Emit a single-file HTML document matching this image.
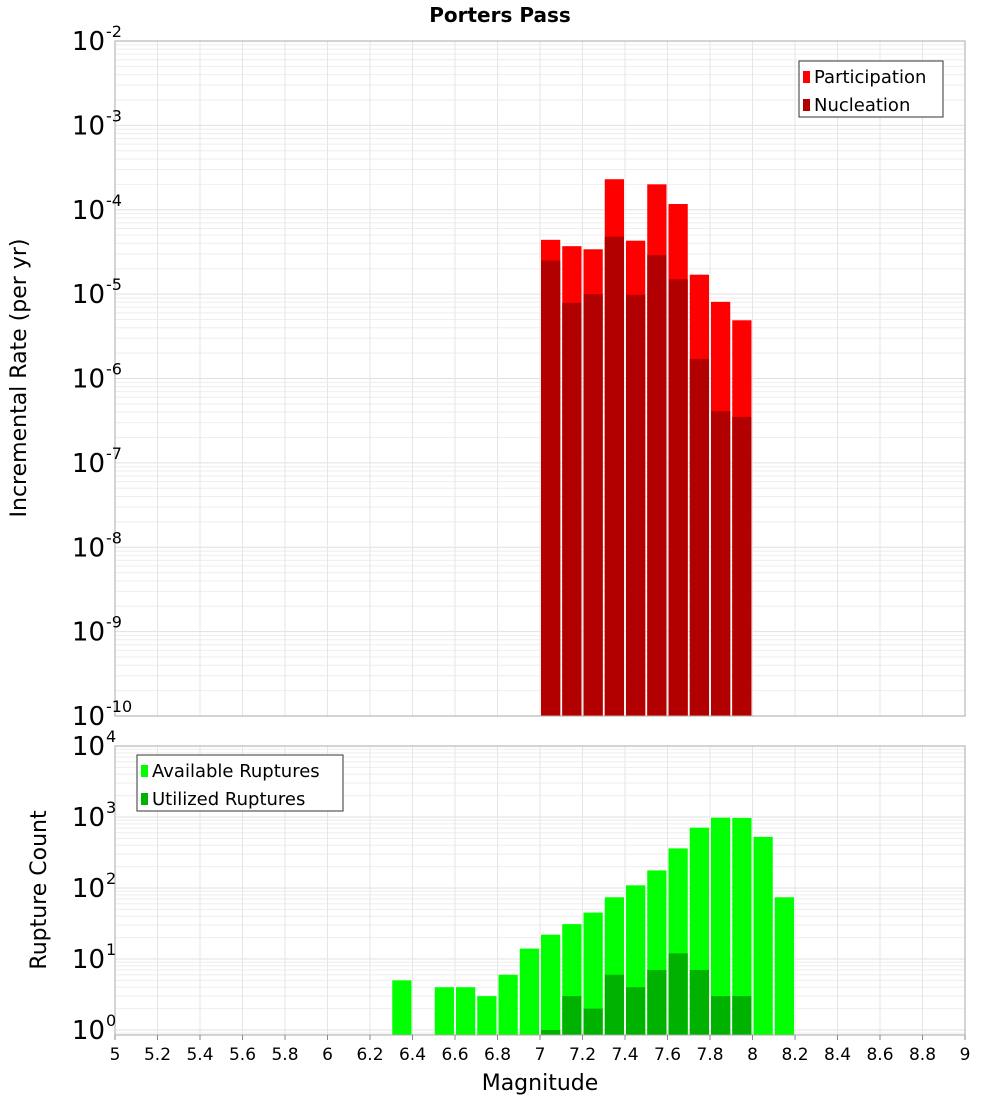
<!DOCTYPE html>
<html><head><meta charset="utf-8"><style>
body{margin:0;background:#fff;}
svg{display:block;font-family:"DejaVu Sans","Liberation Sans",sans-serif;}
</style></head><body>
<svg id="chart" width="1000" height="1100" xmlns="http://www.w3.org/2000/svg">
<text x="500" y="22" text-anchor="middle" font-size="20" font-weight="bold">Porters Pass</text>
<g id="top"></g>
<g id="bot"></g>
<text transform="translate(26,378) rotate(-90)" text-anchor="middle" font-size="22">Incremental Rate (per yr)</text>
<text transform="translate(46,890) rotate(-90)" text-anchor="middle" font-size="22">Rupture Count</text>
<text x="540" y="1090" text-anchor="middle" font-size="22">Magnitude</text>
</svg>
<script>
const bins=[7.05,7.15,7.25,7.35,7.45,7.55,7.65,7.75,7.85,7.95];
const participation=[4.4e-5,3.7e-5,3.4e-5,2.3e-4,4.3e-5,2.0e-4,1.17e-4,1.7e-5,8.1e-6,4.9e-6];
const nucleation=[2.5e-5,7.9e-6,1.0e-5,4.8e-5,9.8e-6,2.9e-5,1.5e-5,1.7e-6,4.1e-7,3.5e-7];
const countBins=[6.35,6.55,6.65,6.75,6.85,6.95,7.05,7.15,7.25,7.35,7.45,7.55,7.65,7.75,7.85,7.95,8.05,8.15];
const available=[5,4,4,3,6,14,22,31,45,74,109,177,361,708,977,970,525,74];
const utilBins=[7.05,7.15,7.25,7.35,7.45,7.55,7.65,7.75,7.85,7.95];
const utilized=[1,3,2,6,4,7,12,7,3,3];
const xTicks=[5,5.2,5.4,5.6,5.8,6,6.2,6.4,6.6,6.8,7,7.2,7.4,7.6,7.8,8,8.2,8.4,8.6,8.8,9];
const NS='http://www.w3.org/2000/svg';
const L=115,R=965;
const xs=m=>L+(m-5)/4*(R-L);
function mk(p,t,a){const e=document.createElementNS(NS,t);for(const k in a)e.setAttribute(k,a[k]);p.appendChild(e);return e;}
function panel(g,top,bot,maxExp,minExp,lowVal){
  const dec=(bot-top)/(maxExp-Math.log10(lowVal));
  const ys=v=>top+(maxExp-Math.log10(v))*dec;
  for(let e=Math.floor(Math.log10(lowVal));e<maxExp;e++)for(let k=1;k<10;k++){
    const y=ys(k*Math.pow(10,e));if(y<top||y>bot)continue;
    const l=mk(g,'line',{x1:L,x2:R,y1:y,y2:y,stroke:k==1?'#e0e0e0':'#eeeeee','stroke-width':1});
    }
  xTicks.forEach(t=>{const l=mk(g,'line',{x1:xs(t),x2:xs(t),y1:top,y2:bot,stroke:'#e6e6e6'});
    });
  return ys;
}
function bar(g,m,v,ys,bot,fill,name){
  const x0=xs(m-0.05)+1,x1=xs(m+0.05)-1,y=ys(v);
  const r=mk(g,'rect',{x:x0,y:y,width:x1-x0,height:bot-y,fill:fill});
  
}
function yLabels(g,ys,exps,fs){
  exps.forEach(e=>{const y=ys(Math.pow(10,e));
    const t=mk(g,'text',{x:105,y:y+9,'text-anchor':'end','font-size':fs});
    
    t.textContent='10';
    const s=mk(g,'text',{x:106,y:y-4,'font-size':16});
    
    s.textContent=String(e);});
}
function legend(g,x,y,w,items){
  const r=mk(g,'rect',{x:x,y:y,width:w,height:56,fill:'#fff',stroke:'#333'});
  
  items.forEach((it,i)=>{
    const s=mk(g,'rect',{x:x+4,y:y+10+i*28,width:7,height:12,fill:it[1]});
    
    const t=mk(g,'text',{x:x+15,y:y+22+i*28,'font-size':18});
    
    t.textContent=it[0];});
}
// top panel
const gt=document.getElementById('top');
const yt=panel(gt,41,716,-2,-10,1e-10);
participation.forEach((v,i)=>bar(gt,bins[i],v,yt,716,'#ff0000','bar-participation'));
nucleation.forEach((v,i)=>bar(gt,bins[i],v,yt,716,'#b20000','bar-nucleation'));
const ft=mk(gt,'rect',{x:L,y:41,width:R-L,height:675,fill:'none',stroke:'#aaa'});

yLabels(gt,yt,[-2,-3,-4,-5,-6,-7,-8,-9,-10],26);
legend(gt,799,61,144,[['Participation','#ff0000'],['Nucleation','#b20000']]);
// bottom panel
const gb=document.getElementById('bot');
const yb=panel(gb,746,1035,4,0,0.85);
available.forEach((v,i)=>bar(gb,countBins[i],v,yb,1035,'#00ff00','bar-available'));
utilized.forEach((v,i)=>bar(gb,utilBins[i],v,yb,1035,'#00b200','bar-utilized'));
const fb=mk(gb,'rect',{x:L,y:746,width:R-L,height:289,fill:'none',stroke:'#aaa'});

yLabels(gb,yb,[4,3,2,1,0],26);
legend(gb,137,755,206,[['Available Ruptures','#00ff00'],['Utilized Ruptures','#00b200']]);
xTicks.forEach(t=>{
  const tk=mk(gb,'line',{x1:xs(t),x2:xs(t),y1:1035,y2:1040,stroke:'#888'});
  
  const tx=mk(gb,'text',{x:xs(t),y:1060,'text-anchor':'middle','font-size':17});
  
  tx.textContent=String(t);});
</script>
</body></html>
